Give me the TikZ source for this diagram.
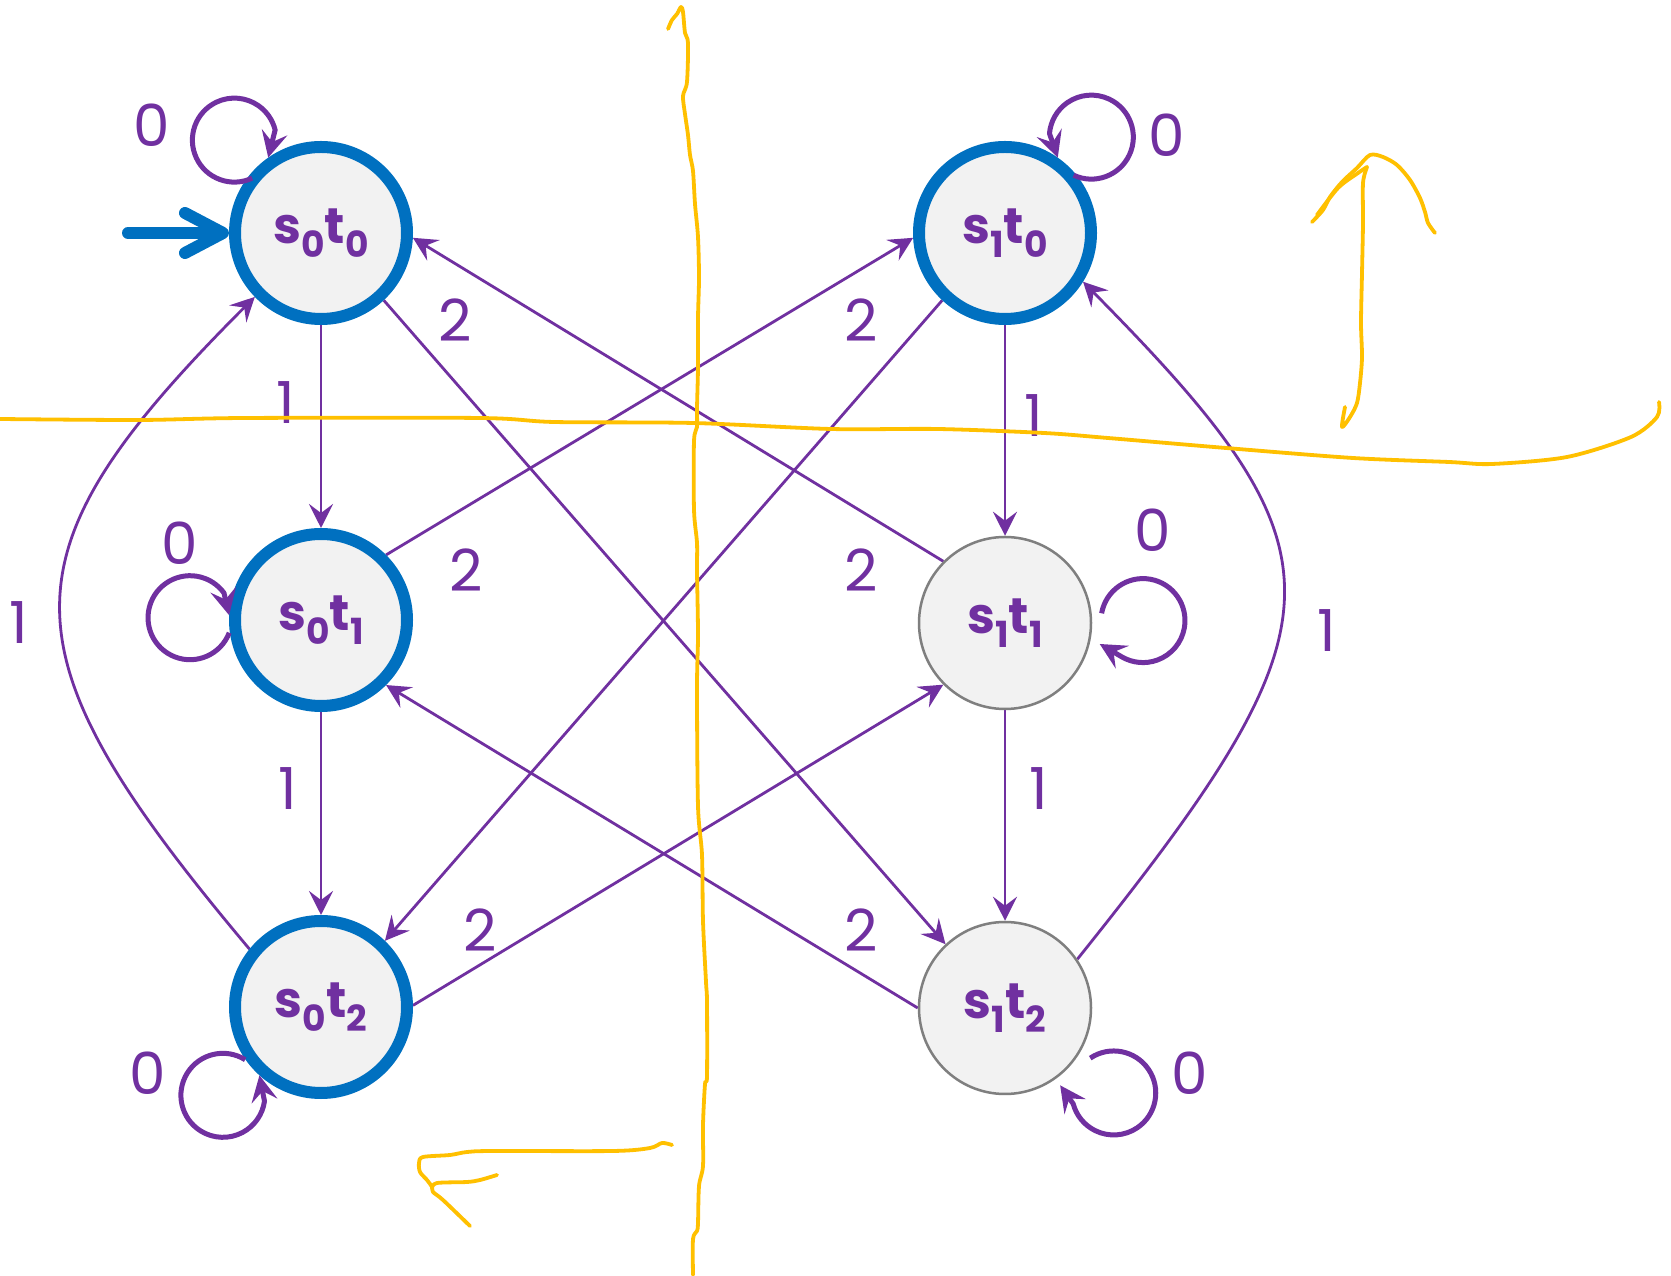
\documentclass[tikz,border=0pt]{standalone}
\usepackage{fontspec}
\setmainfont{Poppins}
\usetikzlibrary{arrows.meta,calc,backgrounds}
\definecolor{stblue}{HTML}{0070C0}
\definecolor{stpurple}{HTML}{7030A0}
\definecolor{stfill}{HTML}{F2F2F2}
\definecolor{stgray}{HTML}{7F7F7F}
\definecolor{penyellow}{HTML}{FFC000}
\newcommand{\stname}[2]{s\raisebox{-7pt}{\fontsize{18}{18}\selectfont #1}t\raisebox{-7pt}{\fontsize{18}{18}\selectfont #2}}
\begin{document}
\begin{tikzpicture}[x=0.5pt,y=0.5pt,
  basenode/.style={circle, minimum size=86pt, inner sep=0pt, fill=stfill, text=stpurple,
    font=\fontsize{25}{25}\selectfont\bfseries},
  accnode/.style={basenode, draw=stblue, line width=6pt},
  plainnode/.style={basenode, draw=stgray, line width=1.25pt},
  trans/.style={draw=stpurple, line width=1.4pt, -{Stealth[length=12pt,width=12pt,inset=4.5pt]}},
  selfloop/.style={draw=stpurple, line width=2.5pt, line join=round, -{Stealth[length=13pt,width=13pt,inset=5pt]}},
  entryarrow/.style={draw=stblue, line width=6pt, line cap=round, -{Straight Barb[length=19pt,width=20pt,line cap=round,line join=round]}},
  elabel/.style={text=stpurple, font=\fontsize{29}{29}\selectfont, inner sep=0pt},
  pen/.style={draw=penyellow, line width=1.9pt, line cap=round, line join=round},
]
\useasboundingbox (0,0) rectangle (1671,1275);

% states
\node[accnode] (s00) at (321,1042) {\stname{0}{0}};
\node[accnode] (s01) at (321,655) {\stname{0}{1}};
\node[accnode] (s02) at (321,268) {\stname{0}{2}};
\node[accnode] (s10) at (1005,1042) {\stname{1}{0}};
\node[plainnode] (s11) at (1005,652) {\stname{1}{1}};
\node[plainnode] (s12) at (1005,267) {\stname{1}{2}};

\begin{pgfonlayer}{background}
\fill[white] (0,0) rectangle (1671,1275);
% vertical edges
\draw[trans] (s00.south) -- (s01.north);
\draw[trans] (s01.south) -- (s02.north);
\draw[trans] (s10.south) -- (s11.north);
\draw[trans] (s11.south) -- (s12.north);
% outer curves
\draw[trans] (s02.141) .. controls (-3,626) and (-3,720) .. (s00.224);
\draw[trans] (s12.34) .. controls (1351,657) and (1351,722) .. (s10.-32);
% diagonals
\draw[trans] (s00.-47) -- (s12.133);
\draw[trans] (s10.227) -- (s02.46);
\draw[trans] (s01.45) -- (s10.183);
\draw[trans] (s11.135) -- (s00.-3);
\draw[trans] (s02.1) -- (s11.225);
\draw[trans] (s12.180) -- (s01.-45);
\end{pgfonlayer}

% self loops
\coordinate (t11) at ($(s11.center)+(-12.5:97)$);
\coordinate (t12) at ($(s12.center)+(-54.5:95)$);
\draw[selfloop] ($(s00.center)+(133:127)+(-65:42)$) arc[start angle=-65, delta angle=-281, radius=42] -- (s00.125);
\draw[selfloop] ($(s01.center)+(179:131)+(-21:42)$) arc[start angle=-21, delta angle=-303, radius=42] -- (s01.177);
\draw[selfloop] ($(s02.center)+(222:132)+(58:42)$) arc[start angle=58, delta angle=294, radius=42] -- (s02.228);
\draw[selfloop] ($(s10.center)+(48:129)+(245:42)$) arc[start angle=245, delta angle=290, radius=42] -- (s10.55);
\draw[selfloop] ($(s11.center)+(1:138)+(170:42)$) arc[start angle=170, delta angle=-290, radius=42] -- (t11);
\draw[selfloop] ($(s12.center)+(-38:138)+(124:42)$) arc[start angle=124, delta angle=-289, radius=42] -- (t12);

% initial arrow
\coordinate (entry) at (128,1042);
\draw[entryarrow] (entry) -- (s00.west);

% labels
\node[elabel] (la) at (286,872) {1};
\node[elabel] (lb) at (288,486) {1};
\node[elabel] (lc) at (1034,859) {1};
\node[elabel] (ld) at (1039,486) {1};
\node[elabel] (le) at (19,652) {1};
\node[elabel] (lf) at (1327,644) {1};
\node[elabel] (lg) at (455,955) {2};
\node[elabel] (lh) at (861,955) {2};
\node[elabel] (li) at (466,705) {2};
\node[elabel] (lj) at (861,705) {2};
\node[elabel] (lk) at (480,345) {2};
\node[elabel] (ll) at (861,345) {2};
\node[elabel] (lm) at (152,1150) {0};
\node[elabel] (ln) at (180,732) {0};
\node[elabel] (lo) at (148,202) {0};
\node[elabel] (lp) at (1167,1140) {0};
\node[elabel] (lq) at (1153,745) {0};
\node[elabel] (lr) at (1190,202) {0};

% hand-drawn yellow annotations
\begin{scope}[shift={(0,1275)}, yscale=-1]
\draw[pen] plot[smooth, tension=0.5] coordinates {(668,29) (672,20) (677,14) (681,7) (683,12) (685,33) (688,43) (687,82) (683,96) (685,114) (688,135) (690,155) (693,171) (695,204) (698,237) (699,278) (698,318) (698,367) (697,408) (697,427) (694,441) (694,510) (697,543) (697,571) (698,635) (697,688) (698,806) (702,855) (703,921) (706,982) (707,1002) (707,1076) (705,1084) (703,1125) (703,1166) (699,1186) (698,1223) (697,1231) (693,1239) (693,1275)};
\draw[pen] plot[smooth, tension=0.5] coordinates {(0,419) (139,420) (245,418) (480,418) (554,422) (693,423) (831,429) (938,429) (1044,433) (1108,438) (1226,448) (1353,458) (1449,462) (1492,464) (1567,457) (1631,437) (1657,417) (1659,402)};
\draw[pen] plot[smooth, tension=0.5] coordinates {(1345,407) (1342,427) (1350,417) (1357,403) (1360,383) (1362,357) (1361,323) (1362,273) (1363,223) (1363,183) (1367,167)};
\draw[pen] plot[smooth, tension=0.5] coordinates {(1312,222) (1323,210) (1330,197) (1342,182) (1357,168) (1370,155) (1383,157) (1397,165) (1410,180) (1420,198) (1425,212) (1428,223) (1435,233)};
\draw[pen] plot[smooth, tension=0.5] coordinates {(1317,215) (1338,188) (1358,173) (1367,167)};
\draw[pen] plot[smooth, tension=0.5] coordinates {(672,1145) (662,1143) (650,1148) (613,1151) (493,1151) (467,1152) (450,1155) (423,1157) (419,1163) (420,1172) (427,1180) (432,1187) (433,1192) (443,1200) (470,1226)};
\draw[pen] plot[smooth, tension=0.5] coordinates {(497,1175) (480,1180) (467,1182) (437,1183) (432,1188)};
\end{scope}
\end{tikzpicture}
\end{document}
